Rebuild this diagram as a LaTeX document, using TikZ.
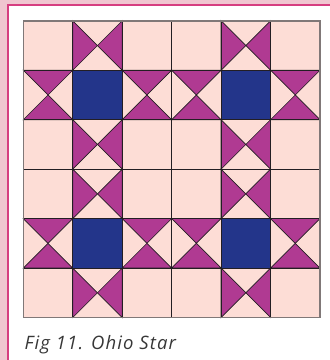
\documentclass[tikz,border=0pt]{standalone}
\usepackage{fontspec}
\setmainfont{Open Sans}
\definecolor{outerpink}{RGB}{240,198,208}
\definecolor{framepink}{RGB}{214,62,128}
\definecolor{cellpink}{RGB}{253,221,214}
\definecolor{starpurple}{RGB}{176,58,146}
\definecolor{starblue}{RGB}{35,53,138}
\definecolor{gridline}{RGB}{35,30,35}
\definecolor{edgegray}{RGB}{128,120,120}
\definecolor{captiongray}{RGB}{55,55,55}
\tikzset{
  cellline/.style={draw=gridline,line width=0.9pt},
  tri/.style={fill=starpurple,draw=gridline,line width=0.7pt,line join=miter},
  centre/.style={fill=starblue},
  caption/.style={font=\itshape\fontsize{18.5pt}{20pt}\selectfont\addfontfeatures{LetterSpace=6},text=captiongray,anchor=base west,inner sep=0pt}
}
\newcommand{\cs}{49.45}
\newcommand{\gx}{23.3}
\newcommand{\gy}{20.8}
% vertical hourglass: purple left and right
\newcommand{\vhour}[2]{%
  \pgfmathsetmacro{\ax}{\gx+#1*\cs}\pgfmathsetmacro{\ay}{\gy+#2*\cs}%
  \pgfmathsetmacro{\bx}{\ax+\cs}\pgfmathsetmacro{\by}{\ay+\cs}%
  \pgfmathsetmacro{\mx}{\ax+\cs/2}\pgfmathsetmacro{\my}{\ay+\cs/2}%
  \filldraw[tri] (\ax,\ay) -- (\mx,\my) -- (\ax,\by) -- cycle;
  \filldraw[tri] (\bx,\ay) -- (\mx,\my) -- (\bx,\by) -- cycle;}
% horizontal hourglass: purple top and bottom
\newcommand{\hhour}[2]{%
  \pgfmathsetmacro{\ax}{\gx+#1*\cs}\pgfmathsetmacro{\ay}{\gy+#2*\cs}%
  \pgfmathsetmacro{\bx}{\ax+\cs}\pgfmathsetmacro{\by}{\ay+\cs}%
  \pgfmathsetmacro{\mx}{\ax+\cs/2}\pgfmathsetmacro{\my}{\ay+\cs/2}%
  \filldraw[tri] (\ax,\ay) -- (\mx,\my) -- (\bx,\ay) -- cycle;
  \filldraw[tri] (\ax,\by) -- (\mx,\my) -- (\bx,\by) -- cycle;}
\newcommand{\bluecell}[2]{%
  \pgfmathsetmacro{\ax}{\gx+#1*\cs}\pgfmathsetmacro{\ay}{\gy+#2*\cs}%
  \fill[centre] (\ax,\ay) rectangle ++(\cs,\cs);}
\begin{document}
\begin{tikzpicture}[x=1pt,y=-1pt]
  \useasboundingbox (0,0) rectangle (330,360);
  \fill[outerpink] (0,0) rectangle (330,360);
  \fill[white] (8,5) rectangle (331,361);
  \draw[framepink,line width=1.8pt] (8,362) -- (8,5) -- (332,5);
  % grid background
  \fill[cellpink] (\gx,\gy) rectangle ++(6*\cs,6*\cs);
  % blocks
  \foreach \bi/\bj in {0/0,3/0,0/3,3/3}{
    \pgfmathtruncatemacro{\c}{\bi+1}\pgfmathtruncatemacro{\r}{\bj+1}
    \pgfmathtruncatemacro{\cl}{\bi}\pgfmathtruncatemacro{\cr}{\bi+2}
    \pgfmathtruncatemacro{\rt}{\bj}\pgfmathtruncatemacro{\rb}{\bj+2}
    \vhour{\c}{\rt}
    \vhour{\c}{\rb}
    \hhour{\cl}{\r}
    \hhour{\cr}{\r}
    \bluecell{\c}{\r}
  }
  % grid lines
  \foreach \k in {1,...,5}{
    \draw[cellline] (\gx+\k*\cs,\gy) -- (\gx+\k*\cs,\gy+6*\cs);
    \draw[cellline] (\gx,\gy+\k*\cs) -- (\gx+6*\cs,\gy+\k*\cs);
  }
  \draw[draw=edgegray,line width=1.4pt] (\gx,\gy) rectangle ++(6*\cs,6*\cs);
  \node[caption] (cap) at (24.5,349) {Fig 11. Ohio Star};
\end{tikzpicture}
\end{document}
